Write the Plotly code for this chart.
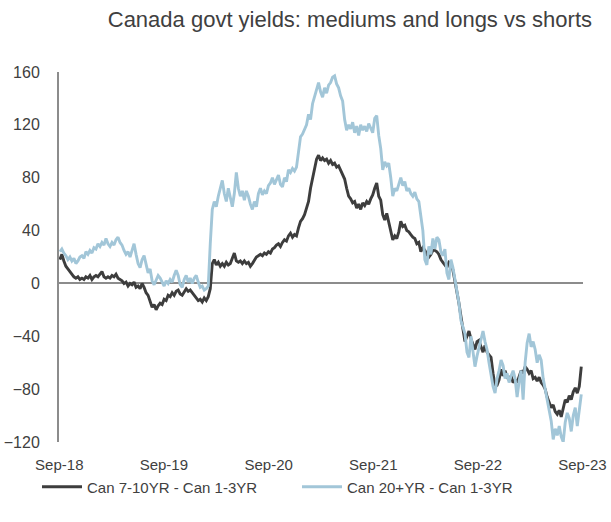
import pandas as pd
import plotly.graph_objects as go

# weekly observations
dates = pd.date_range("2018-09-03", periods=261, freq="7D")

mediums = [
    18, 22, 17, 13, 11, 9, 7, 5, 4, 5,
    3, 4, 3, 5, 4, 6, 3, 5, 6, 5,
    7, 9, 5, 4, 5, 4, 6, 5, 7, 4,
    3, 2, 0, 1, -2, 0, -1, 1, -3, -2,
    -4, 0, -3, -7, -9, -13, -18, -16, -20, -17,
    -15, -16, -12, -13, -9, -10, -7, -9, -6, -5,
    -8, -9, -6, -4, -6, -5, -7, -9, -11, -13,
    -12, -14, -11, -13, -10, -4, 15, 18, 14, 16,
    13, 15, 13, 16, 14, 15, 19, 23, 17, 16,
    17, 15, 17, 15, 16, 13, 15, 18, 20, 21,
    22, 21, 23, 22, 24, 23, 26, 27, 29, 30,
    28, 31, 33, 32, 36, 38, 35, 37, 36, 42,
    47, 49, 52, 57, 62, 72, 80, 88, 94, 97,
    93, 95, 93, 94, 91, 93, 90, 91, 88, 89,
    86, 83, 79, 72, 66, 64, 61, 62, 57, 60,
    56, 61, 59, 62, 60, 64, 67, 72, 76, 66,
    63, 52, 48, 53, 46, 40, 33, 36, 34, 39,
    47, 43, 44, 40, 39, 37, 35, 34, 30, 31,
    24, 27, 25, 22, 20, 22, 25, 25, 24, 22,
    18, 16, 14, 12, 16, 15, 10, 2, -6, -15,
    -25, -33, -44, -40, -36, -42, -46, -50, -44, -43,
    -48, -52, -47, -52, -54, -56, -68, -78, -77, -73,
    -65, -70, -66, -71, -73, -70, -75, -73, -75, -71,
    -66, -68, -63, -65, -68, -66, -72, -71, -74, -71,
    -75, -77, -80, -86, -90, -94, -92, -97, -99, -96,
    -101, -95, -88, -90, -85, -88, -82, -79, -83, -78, -63,
]

longs = [
    24, 26, 23, 21, 18, 20, 17, 19, 15, 17,
    20, 21, 19, 24, 22, 25, 23, 27, 26, 30,
    28, 31, 29, 34, 30, 28, 31, 29, 33, 35,
    31, 29, 25, 22, 24, 20, 25, 30, 22, 15,
    12, 18, 21, 14, 8, 11, 2, -1, 3, 6,
    4, 1, -2, 2, 0, 3, 1, 6, 10, 6,
    -1, -3, 3, 6, 1, 4, 0, 4, 6, 1,
    -3, -2, -5, -4, -2, 30, 56, 62, 58, 66,
    72, 78, 68, 62, 72, 66, 58, 68, 84, 72,
    66, 70, 63, 70, 66, 60, 56, 62, 58, 68,
    72, 67, 70, 68, 74, 76, 80, 75, 79, 82,
    75, 73, 80, 77, 86, 84, 87, 85, 88, 100,
    111, 113, 116, 120, 128, 124, 136, 142, 148, 152,
    145, 141, 148, 144, 150, 152, 156, 157, 151, 148,
    142, 138, 124, 116, 120, 117, 122, 114, 119, 112,
    120, 116, 119, 115, 121, 117, 114, 125, 127, 112,
    102, 86, 92, 89, 91, 80, 66, 72, 70, 75,
    80, 74, 77, 70, 72, 68, 66, 69, 64, 62,
    52, 40, 18, 14, 28, 22, 34, 26, 35, 33,
    24, 21, 26, 8, 3, 18, 12, 3, -8, -15,
    -28, -34, -38, -52, -56, -40, -50, -63, -55, -48,
    -43, -36, -44, -50, -60, -70, -78, -83, -72, -66,
    -58, -62, -72, -68, -75, -70, -66, -72, -86, -74,
    -66, -88, -60, -45, -38, -48, -44, -50, -60, -54,
    -58, -72, -80, -90, -99, -104, -118, -110, -115, -108,
    -116, -120, -105, -98, -102, -112, -100, -94, -108, -96, -84,
]

tick_vals = ["2018-09-01", "2019-09-01", "2020-09-01", "2021-09-01", "2022-09-01", "2023-09-01"]
tick_text = ["Sep-18", "Sep-19", "Sep-20", "Sep-21", "Sep-22", "Sep-23"]

FONT = "Liberation Sans, Arial, sans-serif"
TXT = "#404040"

fig = go.Figure()
fig.add_trace(go.Scatter(x=dates, y=mediums, mode="lines", name="Can 7-10YR - Can 1-3YR",
                         line=dict(color="#3d3d3d", width=2.9)))
fig.add_trace(go.Scatter(x=dates, y=longs, mode="lines", name="Can 20+YR - Can 1-3YR",
                         line=dict(color="#a2c6d8", width=2.9)))

fig.update_layout(
    width=611, height=522,
    margin=dict(l=59, r=28, t=72, b=80, autoexpand=False),
    paper_bgcolor="white", plot_bgcolor="white",
    font=dict(family=FONT, color=TXT, size=15),
    title=dict(text="Canada govt yields: mediums and longs vs shorts",
               x=592/611, xref="container", xanchor="right",
               y=1-19/522, yref="container", yanchor="middle",
               font=dict(size=22, color=TXT, family=FONT)),
    showlegend=True,
    legend=dict(orientation="h", xref="container", x=37/611, xanchor="left",
                yref="container", y=1-487/522, yanchor="middle",
                font=dict(size=15, color=TXT), itemwidth=40, entrywidth=205,
                bgcolor="rgba(0,0,0,0)"),
    xaxis=dict(range=["2018-08-31", "2023-09-03"], tickvals=tick_vals, ticktext=tick_text,
               showgrid=False, zeroline=False, showline=False, ticks="", automargin=False,
               ticklabelstandoff=12, tickfont=dict(size=15, color=TXT)),
    yaxis=dict(range=[-120, 160], dtick=40, tick0=0, showgrid=False, automargin=False,
               zeroline=True, zerolinecolor="#8c8c8c", zerolinewidth=2,
               showline=True, linecolor="#8c8c8c", linewidth=2, ticks="",
               ticklabelstandoff=14, tickfont=dict(size=16, color=TXT)),
)

fig.write_html("out.html")
